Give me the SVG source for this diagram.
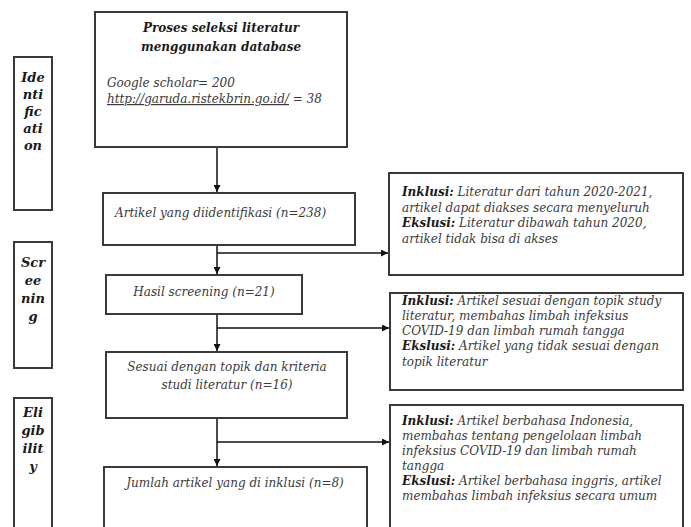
<svg xmlns="http://www.w3.org/2000/svg" width="691" height="527" viewBox="0 0 691 527">
<defs>
<marker id="ah" viewBox="0 0 10 10" refX="10" refY="5" markerWidth="7" markerHeight="7" markerUnits="userSpaceOnUse" orient="auto"><path d="M0,0 L10,5 L0,10 z" fill="#111"/></marker>
<style>
.box{fill:#fff;stroke:#3a3a3a;stroke-width:2}
.t{font-family:"DejaVu Serif",serif;font-style:italic;font-size:12px;fill:#3a3a3a}
.b{font-weight:bold;fill:#1a1a1a}
.lab{font-family:"DejaVu Serif",serif;font-style:italic;font-weight:bold;font-size:13px;fill:#1a1a1a;text-anchor:middle}
.c{text-anchor:middle}
.con{stroke:#111;stroke-width:1.5;fill:none}
</style>
</defs>
<rect width="691" height="527" fill="#fff"/>
<g id="phase-identification">
<rect class="box" x="14" y="57" width="38" height="153"/>
<text class="lab" x="33" y="82">Ide</text>
<text class="lab" x="33" y="99">nti</text>
<text class="lab" x="33" y="116">fic</text>
<text class="lab" x="33" y="133">ati</text>
<text class="lab" x="33" y="150">on</text>
</g>
<g id="phase-screening">
<rect class="box" x="14" y="242" width="38" height="126"/>
<text class="lab" x="33" y="267">Scr</text>
<text class="lab" x="33" y="285">ee</text>
<text class="lab" x="33" y="303">nin</text>
<text class="lab" x="33" y="321">g</text>
</g>
<g id="phase-eligibility">
<rect class="box" x="14" y="398" width="38" height="150"/>
<text class="lab" x="33" y="417">Eli</text>
<text class="lab" x="33" y="435">gib</text>
<text class="lab" x="33" y="453">ilit</text>
<text class="lab" x="33" y="471">y</text>
</g>
<g id="n-database">
<rect class="box" x="95" y="12" width="252" height="135"/>
<text class="t b c" x="221" y="32">Proses seleksi literatur</text>
<text class="t b c" x="221" y="51">menggunakan database</text>
<text class="t" x="107" y="87">Google scholar= 200</text>
<text class="t" x="107" y="103"><tspan text-decoration="underline">http://garuda.ristekbrin.go.id/</tspan> = 38</text>
</g>
<g id="n-identified">
<rect class="box" x="103" y="193" width="252" height="52"/>
<text class="t" x="115" y="217">Artikel yang diidentifikasi (n=238)</text>
</g>
<g id="n-screening">
<rect class="box" x="106" y="275" width="196" height="39"/>
<text class="t c" x="204" y="296">Hasil screening (n=21)</text>
</g>
<g id="n-eligible">
<rect class="box" x="106" y="352" width="241" height="66"/>
<text class="t c" x="227" y="371">Sesuai dengan topik dan kriteria</text>
<text class="t c" x="227" y="389">studi literatur (n=16)</text>
</g>
<g id="n-included">
<rect class="box" x="104" y="467" width="263" height="80"/>
<text class="t c" x="235" y="487">Jumlah artikel yang di inklusi (n=8)</text>
</g>
<g id="n-criteria1">
<rect class="box" x="389" y="173" width="294" height="102"/>
<text class="t" x="402" y="196"><tspan class="b">Inklusi:</tspan> Literatur dari tahun 2020-2021,</text>
<text class="t" x="402" y="212">artikel dapat diakses secara menyeluruh</text>
<text class="t" x="402" y="227"><tspan class="b">Ekslusi:</tspan> Literatur dibawah tahun 2020,</text>
<text class="t" x="402" y="243">artikel tidak bisa di akses</text>
</g>
<g id="n-criteria2">
<rect class="box" x="390" y="293" width="293" height="97"/>
<text class="t" x="402" y="305"><tspan class="b">Inklusi:</tspan> Artikel sesuai dengan topik study</text>
<text class="t" x="402" y="320">literatur, membahas limbah infeksius</text>
<text class="t" x="402" y="335">COVID-19 dan limbah rumah tangga</text>
<text class="t" x="402" y="350"><tspan class="b">Ekslusi:</tspan> Artikel yang tidak sesuai dengan</text>
<text class="t" x="402" y="366">topik literatur</text>
</g>
<g id="n-criteria3">
<rect class="box" x="390" y="405" width="293" height="140"/>
<text class="t" x="402" y="425"><tspan class="b">Inklusi:</tspan> Artikel berbahasa Indonesia,</text>
<text class="t" x="402" y="440">membahas tentang pengelolaan limbah</text>
<text class="t" x="402" y="455">infeksius COVID-19 dan limbah rumah</text>
<text class="t" x="402" y="470">tangga</text>
<text class="t" x="402" y="485"><tspan class="b">Ekslusi:</tspan> Artikel berbahasa inggris, artikel</text>
<text class="t" x="402" y="500">membahas limbah infeksius secara umum</text>
</g>
<g id="connectors">
<line class="con" x1="217" y1="148" x2="217" y2="192" marker-end="url(#ah)"/>
<line class="con" x1="217" y1="246" x2="217" y2="274" marker-end="url(#ah)"/>
<line class="con" x1="217" y1="315" x2="217" y2="351" marker-end="url(#ah)"/>
<line class="con" x1="217" y1="419" x2="217" y2="466" marker-end="url(#ah)"/>
<line class="con" x1="217" y1="253" x2="388" y2="253" marker-end="url(#ah)"/>
<line class="con" x1="217" y1="328" x2="389" y2="328" marker-end="url(#ah)"/>
<line class="con" x1="217" y1="442" x2="389" y2="442" marker-end="url(#ah)"/>
</g>
</svg>
